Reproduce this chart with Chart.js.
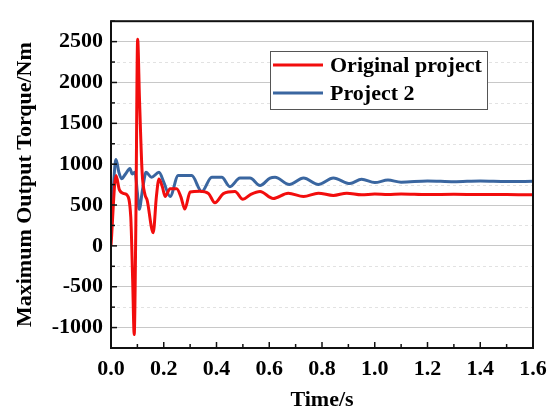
<!DOCTYPE html>
<html>
<head>
<meta charset="utf-8">
<script src="https://cdn.jsdelivr.net/npm/chart.js@4.4.1/dist/chart.umd.min.js"></script>
<style>
  html, body { margin: 0; padding: 0; background: #fff; }
  #wrap { width: 556px; height: 412px; }
</style>
</head>
<body>
<div id="wrap"><canvas id="grafico" width="556" height="412"></canvas></div>
<script>
// Curva do projeto original (tempo em s, torque em Nm)
const tempoOriginal = [0, 0.019, 0.032, 0.05, 0.06, 0.075, 0.082, 0.088, 0.094, 0.101, 0.108, 0.118, 0.129, 0.137, 0.16, 0.172, 0.182, 0.195, 0.205, 0.224, 0.249, 0.265, 0.28, 0.3, 0.337, 0.37, 0.394, 0.426, 0.47, 0.5, 0.53, 0.565, 0.615, 0.672, 0.73, 0.786, 0.843, 0.894, 0.95, 1.0, 1.05, 1.1, 1.2, 1.3, 1.4, 1.5, 1.6];
const torqueOriginal = [0, 860, 684, 640, 625, 350, -400, -1085, 200, 2530, 1800, 900, 625, 560, 160, 600, 820, 720, 605, 700, 700, 600, 450, 660, 670, 640, 527, 640, 665, 570, 630, 665, 580, 645, 605, 645, 617, 645, 625, 635, 628, 635, 628, 632, 628, 630, 625];

// Curva do projeto 2
const tempoProjeto2 = [0, 0.019, 0.03, 0.04, 0.055, 0.072, 0.08, 0.091, 0.1, 0.107, 0.12, 0.133, 0.154, 0.182, 0.2, 0.224, 0.255, 0.306, 0.344, 0.382, 0.42, 0.451, 0.489, 0.527, 0.565, 0.603, 0.622, 0.676, 0.73, 0.786, 0.843, 0.906, 0.95, 1.0, 1.05, 1.1, 1.2, 1.3, 1.4, 1.5, 1.6];
const torqueProjeto2 = [150, 1058, 900, 822, 880, 947, 880, 900, 650, 448, 700, 900, 840, 900, 780, 605, 860, 860, 665, 840, 840, 725, 830, 830, 740, 830, 840, 752, 830, 752, 830, 763, 815, 775, 805, 780, 795, 785, 795, 788, 790];

const nomesSeries = ['Original project', 'Project 2'];
const ticksX = [0, 0.2, 0.4, 0.6, 0.8, 1.0, 1.2, 1.4, 1.6];
const ticksY = [-1000, -500, 0, 500, 1000, 1500, 2000, 2500];

const fonte = "'Liberation Serif', 'Times New Roman', serif";
const tamanhoFonte = 22;

function montarPontos(xs, ys) {
    return xs.map(function(x, i) { return { x: x, y: ys[i] }; });
}

// Moldura, ticks internos, grade secundária e legenda dentro do gráfico
const pluginMoldura = {
    id: 'moldura',
    beforeDatasetsDraw(chart) {
        const ctx = chart.ctx;
        const area = chart.chartArea;
        const y = chart.scales.y;
        ctx.save();
        ctx.strokeStyle = '#e2e2e2';
        ctx.lineWidth = 1;
        ctx.setLineDash([3, 3]);
        for (let v = -1250; v <= 2750; v += 500) {
            const py = Math.round(y.getPixelForValue(v)) + 0.5;
            if (py <= area.top + 1 || py >= area.bottom - 1) continue;
            ctx.beginPath();
            ctx.moveTo(area.left, py);
            ctx.lineTo(area.right, py);
            ctx.stroke();
        }
        ctx.restore();
    },
    afterDraw(chart) {
        const ctx = chart.ctx;
        const area = chart.chartArea;
        const x = chart.scales.x;
        const y = chart.scales.y;
        ctx.save();
        ctx.strokeStyle = '#111';
        ctx.lineWidth = 1.5;
        // ticks do eixo y (para dentro)
        for (let v = -1250; v <= 2750; v += 250) {
            const py = y.getPixelForValue(v);
            if (py < area.top || py > area.bottom) continue;
            const len = (v % 500 === 0) ? 6 : 4;
            ctx.beginPath();
            ctx.moveTo(area.left, py);
            ctx.lineTo(area.left + len, py);
            ctx.stroke();
        }
        // ticks do eixo x
        for (let i = 0; i <= 16; i++) {
            const px = x.getPixelForValue(i / 10);
            const len = (i % 2 === 0) ? 6 : 4;
            ctx.beginPath();
            ctx.moveTo(px, area.bottom);
            ctx.lineTo(px, area.bottom - len);
            ctx.stroke();
        }
        // moldura
        ctx.lineWidth = 2;
        ctx.strokeRect(area.left, area.top, area.right - area.left, area.bottom - area.top);

        // legenda
        const lx = 270, ly = 51, lw = 217, lh = 58;
        ctx.fillStyle = '#fff';
        ctx.fillRect(lx, ly, lw, lh);
        ctx.strokeStyle = '#555';
        ctx.lineWidth = 1;
        ctx.strokeRect(lx + 0.5, ly + 0.5, lw, lh);
        chart.data.datasets.forEach(function(ds, i) {
            const cy = ly + 14 + i * 28;
            ctx.strokeStyle = ds.borderColor;
            ctx.lineWidth = 3;
            ctx.beginPath();
            ctx.moveTo(lx + 3, cy);
            ctx.lineTo(lx + 53, cy);
            ctx.stroke();
            ctx.fillStyle = '#000';
            ctx.font = 'bold ' + tamanhoFonte + 'px ' + fonte;
            ctx.textBaseline = 'middle';
            ctx.textAlign = 'left';
            ctx.fillText(ds.label, lx + 60, cy + 1);
        });
        ctx.restore();
    }
};

const ctxGrafico = document.getElementById('grafico').getContext('2d');
new Chart(ctxGrafico, {
    type: 'line',
    data: {
        datasets: [{
            label: nomesSeries[0],
            data: montarPontos(tempoOriginal, torqueOriginal),
            borderColor: '#f20d0d',
            borderWidth: 3,
            pointRadius: 0,
            cubicInterpolationMode: 'monotone',
            fill: false
        }, {
            label: nomesSeries[1],
            data: montarPontos(tempoProjeto2, torqueProjeto2),
            borderColor: '#3a66a0',
            borderWidth: 3,
            pointRadius: 0,
            cubicInterpolationMode: 'monotone',
            fill: false
        }]
    },
    options: {
        responsive: false,
        animation: false,
        layout: { padding: { top: 10, right: 23, left: 0, bottom: 0 } },
        plugins: {
            legend: { display: false },
            tooltip: { enabled: false }
        },
        scales: {
            x: {
                type: 'linear',
                min: 0,
                max: 1.6,
                afterFit: function(scale) { scale.height = 64; },
                afterBuildTicks: function(scale) {
                    scale.ticks = ticksX.map(function(v) { return { value: v }; });
                },
                grid: { display: false, drawTicks: false },
                border: { display: false },
                ticks: {
                    padding: 8,
                    color: '#000',
                    font: { family: fonte, size: tamanhoFonte, weight: 'bold' },
                    callback: function(v) { return Number(v).toFixed(1); }
                },
                title: {
                    display: true,
                    text: 'Time/s',
                    color: '#000',
                    font: { family: fonte, size: tamanhoFonte, weight: 'bold', lineHeight: 1 },
                    padding: { top: 0, bottom: 1 }
                }
            },
            y: {
                min: -1250,
                max: 2750,
                afterFit: function(scale) { scale.width = 111; },
                afterBuildTicks: function(scale) {
                    scale.ticks = ticksY.map(function(v) { return { value: v }; });
                },
                grid: { color: '#c8c8c8', lineWidth: 1, drawTicks: false },
                border: { display: false },
                ticks: {
                    padding: 8,
                    color: '#000',
                    font: { family: fonte, size: tamanhoFonte, weight: 'bold' },
                    callback: function(v) { return String(v); }
                },
                title: {
                    display: true,
                    text: 'Maximum Output Torque/Nm',
                    color: '#000',
                    font: { family: fonte, size: tamanhoFonte, weight: 'bold', lineHeight: 1 },
                    padding: { top: 14, bottom: 0 }
                }
            }
        }
    },
    plugins: [pluginMoldura]
});
</script>
</body>
</html>
